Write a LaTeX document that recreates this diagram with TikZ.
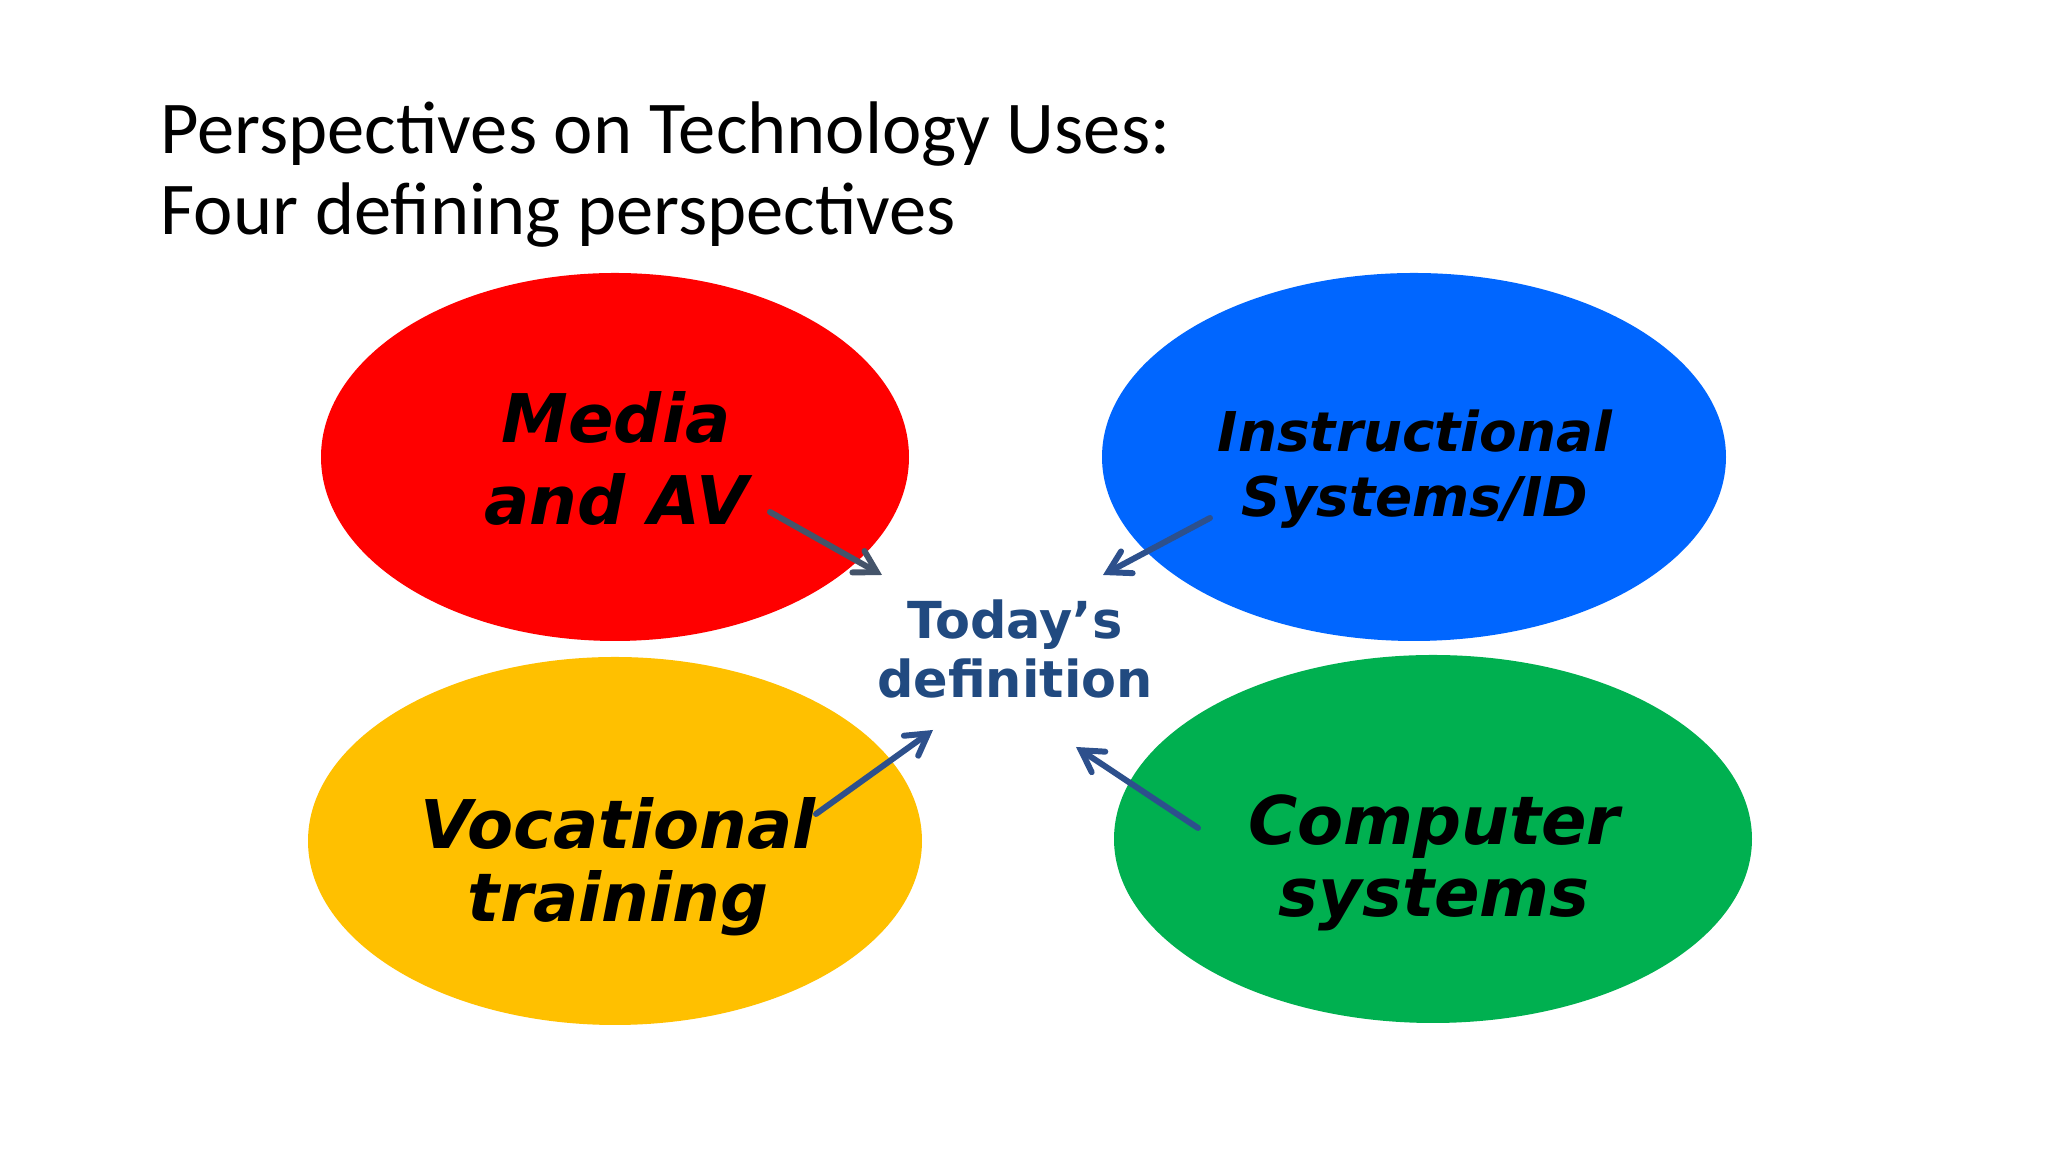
\documentclass[tikz,border=0pt]{standalone}
\usepackage{fontspec}
\setmainfont{Carlito}
\newfontfamily\perspfont{DejaVu Sans}
\usetikzlibrary{positioning}
\usetikzlibrary{arrows.meta}
\usetikzlibrary{shapes.geometric}
\definecolor{mediared}{RGB}{255,0,0}
\definecolor{instrblue}{RGB}{0,102,255}
\definecolor{vocyellow}{RGB}{255,192,0}
\definecolor{compgreen}{RGB}{0,176,80}
\definecolor{defblue}{RGB}{33,74,128}
\definecolor{arrowblue}{RGB}{45,80,140}
\definecolor{arrowslate}{RGB}{68,84,106}

\begin{document}
\begin{tikzpicture}
  [persp/.style={ellipse,draw=none,inner sep=0pt,minimum height=3.68cm},
   persptext/.style={anchor=base,align=center,inner sep=0pt,text=black},
   big/.style={font=\perspfont\bfseries\itshape\fontsize{19.1pt}{#1}\selectfont},
   small/.style={font=\perspfont\bfseries\itshape\fontsize{15.6pt}{18.5pt}\selectfont},
   todef/.style={draw=arrowblue,line width=1.7pt,line cap=round,
     -{Straight Barb[length=6pt,width=7pt,line cap=round]}}]
  \useasboundingbox[fill=white] (0,0) rectangle (20.48,11.52);

  \node (title) [anchor=base west,align=left,inner sep=0pt,
    font=\fontsize{21.2pt}{23.3pt}\selectfont] at (1.60,9.17)
    {Perspectives on Technology Uses:\\Four defining perspectives};

  \node (media) [persp,fill=mediared,minimum width=5.88cm] at (6.15,6.95) {};
  \node (instr) [persp,fill=instrblue,minimum width=6.24cm] at (14.14,6.95) {};
  \node (voc) [persp,fill=vocyellow,minimum width=6.14cm] at (6.15,3.11) {};
  \node (comp) [persp,fill=compgreen,minimum width=6.38cm] at (14.33,3.13) {};

  \node (mediatext) [persptext,big=23.6pt] at (6.16,6.27) {Media\\and AV};
  \node (instrtext) [persptext,small] at (14.15,6.35) {Instructional\\Systems/ID};
  \node (voctext) [persptext,big=21pt] at (6.18,2.30) {Vocational\\training};
  \node (comptext) [persptext,big=20.5pt] at (14.34,2.35) {Computer\\systems};

  \node (def) [anchor=base,align=center,inner sep=0pt,text=defblue,
    font=\perspfont\bfseries\fontsize{14.5pt}{17pt}\selectfont] at (10.15,4.54)
    {Today’s\\definition};

  \coordinate (mediaout) at (7.70,6.40);
  \coordinate (mediain) at (8.82,5.77);
  \coordinate (instrout) at (12.10,6.34);
  \coordinate (instrin) at (11.03,5.77);
  \coordinate (vocout) at (8.16,3.38);
  \coordinate (vocin) at (9.33,4.22);
  \coordinate (compout) at (11.98,3.24);
  \coordinate (compin) at (10.76,4.05);

  \draw [todef,draw=arrowslate] (mediaout) -- (mediain);
  \draw [todef] (instrout) -- (instrin);
  \draw [todef] (vocout) -- (vocin);
  \draw [todef] (compout) -- (compin);
\end{tikzpicture}
\end{document}
